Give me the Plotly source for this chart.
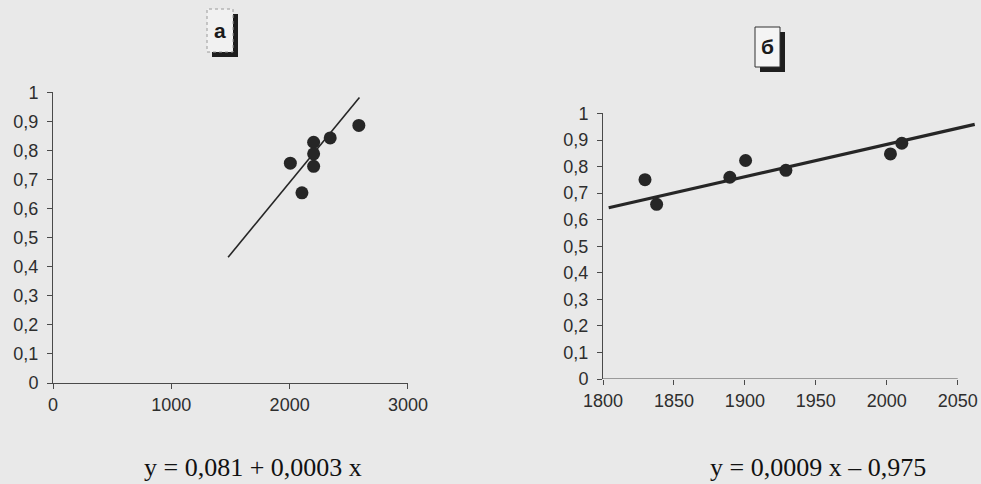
import plotly.graph_objects as go

# ---- data ----
a_x = [2585, 2343, 2203, 2203, 2006, 2203, 2104]
a_y = [0.887, 0.844, 0.829, 0.789, 0.757, 0.746, 0.655]
a_line_x = [1480, 2590]
a_line_y = [0.433, 0.983]

b_x = [1829.6, 1837.8, 1889.4, 1900.5, 1928.9, 2002.6, 2010.6]
b_y = [0.751, 0.658, 0.760, 0.823, 0.786, 0.848, 0.888]
b_line_x = [1804, 2062]
b_line_y = [0.645, 0.959]

y_ticks = [0, 0.1, 0.2, 0.3, 0.4, 0.5, 0.6, 0.7, 0.8, 0.9, 1]
y_tick_text = ["0", "0,1", "0,2", "0,3", "0,4", "0,5", "0,6", "0,7", "0,8", "0,9", "1"]
a_x_ticks = [0, 1000, 2000, 3000]
b_x_ticks = [1800, 1850, 1900, 1950, 2000, 2050]

eq_a = "y = 0,081 + 0,0003 x"
eq_b = "y = 0,0009 x – 0,975"
label_a = "а"
label_b = "б"

W, H = 981, 484
BG = "#e9e9e9"
INK = "#262626"
AX = "#4a4a4a"
TXT = "#2e2e2e"

def px(x):
    return x / W

def py(y):
    return 1 - y / H

fig = go.Figure()
fig.add_trace(go.Scatter(x=a_line_x, y=a_line_y, mode="lines",
                         line=dict(color=INK, width=1.6), xaxis="x", yaxis="y", showlegend=False))
fig.add_trace(go.Scatter(x=a_x, y=a_y, mode="markers",
                         marker=dict(color=INK, size=13), xaxis="x", yaxis="y", showlegend=False))
fig.add_trace(go.Scatter(x=b_line_x, y=b_line_y, mode="lines",
                         line=dict(color=INK, width=3.2), xaxis="x2", yaxis="y2", showlegend=False))
fig.add_trace(go.Scatter(x=b_x, y=b_y, mode="markers",
                         marker=dict(color=INK, size=13), xaxis="x2", yaxis="y2", showlegend=False))

tickfont = dict(family="Liberation Sans, Arial, sans-serif", size=18, color=TXT)
common = dict(showgrid=False, zeroline=False, showline=True, linecolor=AX, linewidth=1,
              ticks="outside", ticklen=5, tickcolor=AX, tickfont=tickfont, automargin=False)

fig.update_layout(
    xaxis=dict(domain=[px(53), px(408)], range=[0, 3000.5], tickvals=a_x_ticks,
               anchor="y", **common),
    yaxis=dict(domain=[py(383), py(92)], range=[0, 1.002], tickvals=y_ticks, ticktext=y_tick_text,
               anchor="x", ticklabelstandoff=5, **common),
    xaxis2=dict(domain=[px(603), px(979)], range=[1800, 2065], tickvals=b_x_ticks,
                anchor="y2", showgrid=False, zeroline=False, showline=False, automargin=False,
                ticks="outside", ticklen=5, tickcolor=AX, tickfont=tickfont),
    yaxis2=dict(domain=[py(379), py(113)], range=[0, 1.002], tickvals=y_ticks, ticktext=y_tick_text,
                anchor="x2", ticklabelstandoff=5, **common),
)

shapes = [
    dict(type="line", xref="x2", yref="y2", x0=1800, x1=2050, y0=0, y1=0,
         line=dict(color=AX, width=1)),
    dict(type="rect", xref="paper", yref="paper", x0=px(212), x1=px(238), y0=py(57), y1=py(14),
         fillcolor="#1e1e1e", line=dict(width=0)),
    dict(type="rect", xref="paper", yref="paper", x0=px(207), x1=px(233), y0=py(52), y1=py(9),
         fillcolor="#f1f1f1", line=dict(color="#9a9a9a", width=1, dash="dot")),
    dict(type="rect", xref="paper", yref="paper", x0=px(760), x1=px(785), y0=py(72), y1=py(32),
         fillcolor="#1e1e1e", line=dict(width=0)),
    dict(type="rect", xref="paper", yref="paper", x0=px(755), x1=px(780), y0=py(67), y1=py(27),
         fillcolor="#f4f4f4", line=dict(color="#303030", width=1)),
]

annotations = [
    dict(text="<b>" + label_a + "</b>", x=px(220), y=py(31), xref="paper", yref="paper", showarrow=False,
         font=dict(family="Liberation Sans, Arial, sans-serif", size=21, color="#1a1a1a"),
         xanchor="center", yanchor="middle"),
    dict(text="<b>" + label_b + "</b>", x=px(767.5), y=py(46), xref="paper", yref="paper", showarrow=False,
         font=dict(family="Liberation Sans, Arial, sans-serif", size=21, color="#1a1a1a"),
         xanchor="center", yanchor="middle"),
    dict(text=eq_a, x=px(253), y=py(467), xref="paper", yref="paper", showarrow=False,
         font=dict(family="Liberation Serif, Times New Roman, serif", size=26, color="#111111"),
         xanchor="center", yanchor="middle"),
    dict(text=eq_b, x=px(818), y=py(467), xref="paper", yref="paper", showarrow=False,
         font=dict(family="Liberation Serif, Times New Roman, serif", size=26, color="#111111"),
         xanchor="center", yanchor="middle"),
]

fig.update_layout(
    width=W, height=H, margin=dict(l=0, r=0, t=0, b=0, pad=0), autosize=False,
    paper_bgcolor=BG, plot_bgcolor=BG,
    shapes=shapes, annotations=annotations, showlegend=False,
)

post = ("document.documentElement.style.margin='0';document.body.style.margin='0';"
        "document.body.style.padding='0';document.body.style.overflow='hidden';"
        "document.body.style.background='" + BG + "';"
        "var gd=document.getElementById('{plot_id}');"
        "Plotly.relayout(gd,{width:" + str(W) + ",height:" + str(H) + "});")

fig.write_html("out.html", post_script=post,
               config={"responsive": False, "displayModeBar": False})
